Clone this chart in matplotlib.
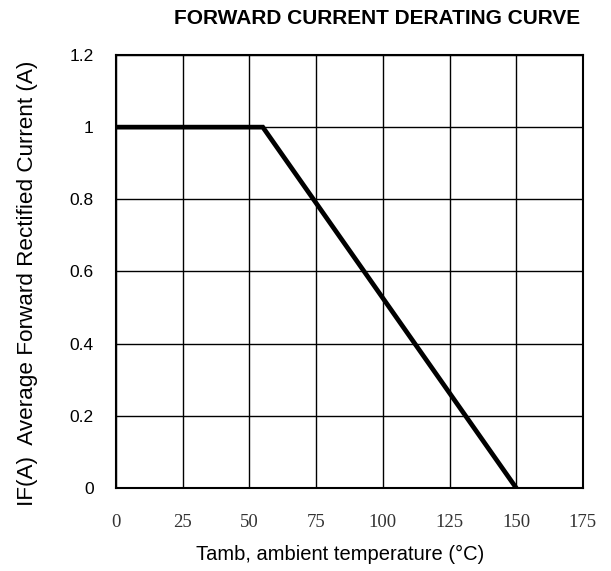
import numpy as np
import matplotlib.pyplot as plt

# derating curve data
temp = [0, 55, 150]
current = [1.0, 1.0, 0.0]

xticks = [0, 25, 50, 75, 100, 125, 150, 175]
yticks = [0, 0.2, 0.4, 0.6, 0.8, 1.0, 1.2]
ylabels = ["0", "0.2", "0.4", "0.6", "0.8", "1", "1.2"]

plt.rcParams['font.family'] = ['Liberation Sans', 'DejaVu Sans']

fig = plt.figure(figsize=(6.11, 5.71), dpi=100)
ax = fig.add_axes([0.190, 0.1454, 0.764, 0.7583])

ax.plot(temp, current, '-k', linewidth=3.4, solid_joinstyle='miter')

ax.set_xlim(0, 175)
ax.set_ylim(0, 1.2)
ax.set_xticks(xticks)
ax.set_xticklabels([str(t) for t in xticks], family='Liberation Serif', fontsize=13.5, color='#333333')
ax.set_yticks(yticks)
ax.set_yticklabels(ylabels, fontsize=12.5)
ax.tick_params(axis='x', length=0, pad=19)
ax.tick_params(axis='y', length=0, pad=16)
ax.grid(True, color='black', linewidth=1.0)
for s in ax.spines.values():
    s.set_linewidth(1.5)

fig.text(377 / 611, 1 - 18 / 571, "FORWARD CURRENT DERATING CURVE", ha='center', va='center',
         fontsize=15, fontweight='bold')
ax.set_xlabel("Tamb, ambient temperature (°C)", fontsize=14.5)
ax.xaxis.set_label_coords(0.48, -0.132)
ax.set_ylabel("IF(A)  Average Forward Rectified Current (A)", fontsize=16.2)
ax.yaxis.set_label_coords(-0.167, 0.473)

fig.savefig("out.png", dpi=100)
